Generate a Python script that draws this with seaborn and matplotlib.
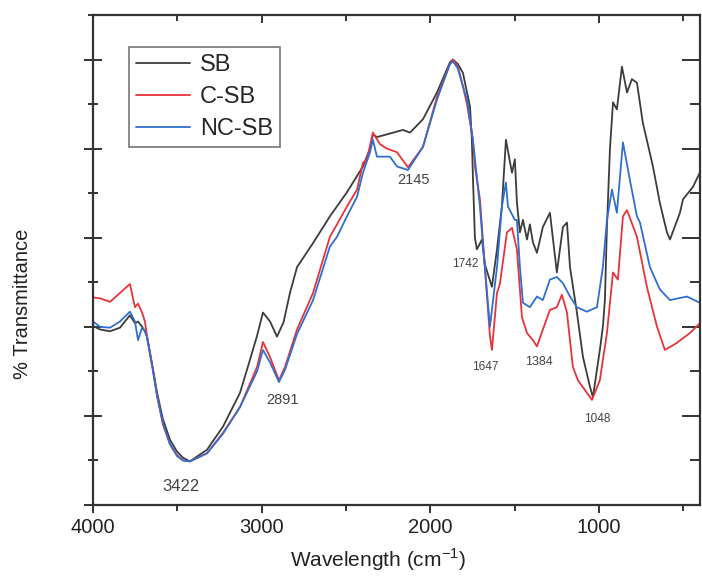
import matplotlib
matplotlib.use("Agg")
import matplotlib.pyplot as plt
import pandas as pd
import seaborn as sns
from matplotlib.ticker import MultipleLocator, NullFormatter

# FTIR spectra (wavenumber in cm-1, transmittance in arbitrary %)
sb_wn = [4000, 3958, 3899, 3840, 3781, 3751, 3733, 3709, 3692, 3680, 3644, 3620, 3585, 3543,
         3502, 3466, 3425, 3324, 3229, 3128, 3069, 3027, 2992, 2950, 2909, 2870, 2832, 2790,
         2695, 2595, 2494, 2399, 2357, 2340, 2316, 2257, 2162, 2120, 2043, 1960, 1883, 1865,
         1836, 1806, 1764, 1753, 1747, 1735, 1723, 1693, 1676, 1634, 1604, 1575, 1551, 1527,
         1515, 1498, 1486, 1468, 1450, 1426, 1409, 1391, 1367, 1332, 1290, 1249, 1213, 1189,
         1171, 1130, 1094, 1053, 1035, 994, 976, 964, 952, 934, 916, 893, 863, 833, 804, 774,
         739, 679, 638, 596, 578, 519, 501, 442, 401]
sb_t = [20.1, 19.7, 19.5, 19.9, 21.3, 20.4, 20.6, 20.0, 19.5, 18.9, 15.2, 12.6, 9.6, 7.3,
        6.0, 5.3, 4.9, 6.2, 8.8, 12.6, 16.3, 19.0, 21.6, 20.6, 18.9, 20.5, 23.8, 26.7,
        29.4, 32.4, 35.1, 38.0, 40.0, 41.6, 41.3, 41.6, 42.1, 41.8, 43.3, 46.3, 49.7, 50.0,
        49.5, 48.5, 44.7, 41.0, 37.0, 30.0, 28.7, 29.8, 27.0, 24.5, 28.7, 33.5, 41.0, 38.5,
        37.3, 38.8, 34.0, 30.6, 32.0, 29.8, 31.5, 29.5, 28.3, 31.2, 32.8, 26.1, 31.2, 31.7,
        26.7, 21.6, 16.6, 13.3, 12.1, 17.4, 20.0, 23.0, 31.2, 40.0, 45.2, 44.4, 49.2, 46.3,
        47.8, 47.4, 42.9, 38.0, 33.9, 30.6, 29.8, 32.8, 34.3, 35.7, 37.3]

csb_wn = [4000, 3958, 3899, 3840, 3799, 3781, 3751, 3733, 3709, 3692, 3680, 3644, 3620, 3585,
          3543, 3502, 3466, 3425, 3324, 3229, 3128, 3027, 2992, 2950, 2897, 2861, 2790, 2695,
          2595, 2553, 2494, 2434, 2399, 2375, 2340, 2298, 2257, 2197, 2132, 2043, 1960, 1883,
          1865, 1836, 1806, 1782, 1747, 1735, 1705, 1676, 1646, 1634, 1604, 1587, 1545, 1515,
          1486, 1456, 1426, 1391, 1367, 1332, 1290, 1249, 1219, 1189, 1154, 1124, 1071, 1041,
          994, 952, 916, 887, 857, 833, 774, 715, 655, 608, 537, 460, 401]
csb_t = [23.3, 23.2, 22.8, 23.8, 24.5, 24.8, 22.2, 22.6, 21.6, 20.6, 19.0, 15.2, 12.3, 9.0,
         6.8, 5.6, 5.0, 4.9, 5.8, 8.1, 11.0, 15.5, 18.3, 16.6, 14.0, 15.5, 19.7, 23.8,
         30.1, 31.5, 33.5, 35.4, 38.4, 38.8, 41.8, 40.5, 40.0, 39.6, 37.9, 40.2, 45.8, 49.5,
         50.0, 49.2, 47.0, 45.0, 41.0, 38.0, 34.3, 26.7, 19.0, 17.4, 23.8, 24.8, 30.6, 31.1,
         28.7, 21.1, 19.3, 18.5, 17.8, 19.7, 21.9, 22.2, 23.6, 21.6, 15.5, 14.0, 12.6, 11.8,
         14.0, 19.3, 26.1, 25.3, 32.4, 33.1, 30.1, 24.5, 20.0, 17.4, 18.2, 19.3, 20.4]

ncsb_wn = [4000, 3958, 3899, 3840, 3781, 3751, 3733, 3709, 3692, 3680, 3644, 3620, 3585, 3543,
           3502, 3466, 3425, 3324, 3229, 3128, 3027, 2992, 2950, 2897, 2861, 2790, 2695, 2595,
           2553, 2494, 2434, 2399, 2357, 2340, 2316, 2239, 2197, 2132, 2043, 1960, 1883, 1865,
           1836, 1806, 1782, 1747, 1705, 1693, 1676, 1646, 1604, 1575, 1551, 1539, 1498, 1486,
           1468, 1450, 1409, 1367, 1332, 1290, 1249, 1213, 1171, 1130, 1071, 1011, 976, 952,
           922, 893, 857, 816, 774, 756, 697, 638, 578, 478, 401]
ncsb_t = [20.6, 20.0, 19.9, 20.6, 21.7, 20.6, 18.5, 19.9, 19.5, 18.9, 15.0, 12.2, 9.2, 6.8,
          5.5, 5.0, 4.9, 5.8, 8.0, 11.0, 15.0, 17.4, 16.0, 13.8, 15.2, 19.2, 23.0, 29.0,
          30.1, 32.4, 34.6, 37.3, 39.6, 41.0, 39.1, 39.1, 38.0, 37.6, 40.2, 45.5, 49.5, 49.8,
          49.0, 47.0, 45.5, 41.0, 33.5, 30.6, 26.7, 20.0, 26.7, 33.5, 36.2, 33.5, 32.0, 32.0,
          26.7, 22.7, 22.2, 23.4, 23.0, 25.3, 25.6, 24.9, 23.4, 22.2, 21.7, 22.2, 26.7, 32.0,
          35.4, 32.8, 40.7, 36.5, 32.4, 31.7, 26.7, 24.2, 23.0, 23.4, 22.7]

series_names = ["SB", "C-SB", "NC-SB"]
peak_labels = ["3422", "2891", "2145", "1742", "1647", "1384", "1048"]
peak_label_wn = [3480, 2879, 2102, 1794, 1676, 1355, 1011]
peak_label_t = [2.1, 11.8, 36.5, 27.0, 15.5, 16.0, 9.6]

palette = {"SB": "#3c3c3c", "C-SB": "#e8333a", "NC-SB": "#2f6fd1"}
label_sizes = [12, 10.5, 10.5, 8.5, 8.5, 9, 8.5]

df = pd.concat([
    pd.DataFrame({"wn": sb_wn, "T": sb_t, "sample": "SB"}),
    pd.DataFrame({"wn": csb_wn, "T": csb_t, "sample": "C-SB"}),
    pd.DataFrame({"wn": ncsb_wn, "T": ncsb_t, "sample": "NC-SB"}),
])

sns.set_style("ticks")
plt.rcParams["font.family"] = ["Liberation Sans", "DejaVu Sans"]
plt.rcParams["mathtext.fontset"] = "custom"
plt.rcParams["mathtext.rm"] = "Liberation Sans"

fig = plt.figure(figsize=(7.02, 5.83), dpi=100)
ax = fig.add_axes([93 / 702, 78 / 583, 607 / 702, 490 / 583])

sns.lineplot(data=df, x="wn", y="T", hue="sample", hue_order=series_names, palette=palette,
             sort=False, estimator=None, linewidth=1.3, ax=ax)

for txt, xw, yt, fs in zip(peak_labels, peak_label_wn, peak_label_t, label_sizes):
    ax.text(xw, yt, txt, fontsize=fs, color="#444444", ha="center", va="center")

ax.set_xlim(4000, 400)
ax.set_ylim(0, 55)
ax.xaxis.set_major_locator(MultipleLocator(1000))
ax.xaxis.set_minor_locator(MultipleLocator(500))
ax.yaxis.set_major_locator(MultipleLocator(10))
ax.yaxis.set_minor_locator(MultipleLocator(5))
ax.yaxis.set_major_formatter(NullFormatter())

for side in ["left", "bottom", "top", "right"]:
    ax.spines[side].set_visible(True)
    ax.spines[side].set_linewidth(1.6)
    ax.spines[side].set_color("#333333")

ax.tick_params(axis="x", which="both", bottom=True, top=True, direction="out", color="#333333",
               labelsize=14.5, labelcolor="#222222", width=1.4)
ax.tick_params(axis="x", which="major", length=6)
ax.tick_params(axis="x", which="minor", length=4)
ax.tick_params(axis="y", which="both", left=True, right=True, direction="inout", color="#333333", width=1.4)
ax.tick_params(axis="y", which="major", length=13)
ax.tick_params(axis="y", which="minor", length=7)
# top and right ticks point inwards
for tick in ax.xaxis.get_major_ticks() + ax.xaxis.get_minor_ticks():
    tick.tick2line.set_marker(3)
for tick in ax.yaxis.get_major_ticks() + ax.yaxis.get_minor_ticks():
    tick.tick2line.set_marker(0)

ax.set_xlabel("Wavelength (cm$^{-1}$)", fontsize=15, color="#222222")
ax.set_ylabel("% Transmittance", fontsize=14.5, color="#222222")
ax.xaxis.set_label_coords(0.47, -0.085)
ax.yaxis.set_label_coords(-0.1, 0.41)

leg = ax.legend(loc="upper left", bbox_to_anchor=(0.059, 0.935), borderaxespad=0, fontsize=17,
                frameon=True, fancybox=False, edgecolor="#555555", handlelength=2.3,
                labelspacing=0.42, handletextpad=0.4, borderpad=0.3, title=None)
leg.get_frame().set_linewidth(1.2)

fig.savefig("out.png", dpi=100)
